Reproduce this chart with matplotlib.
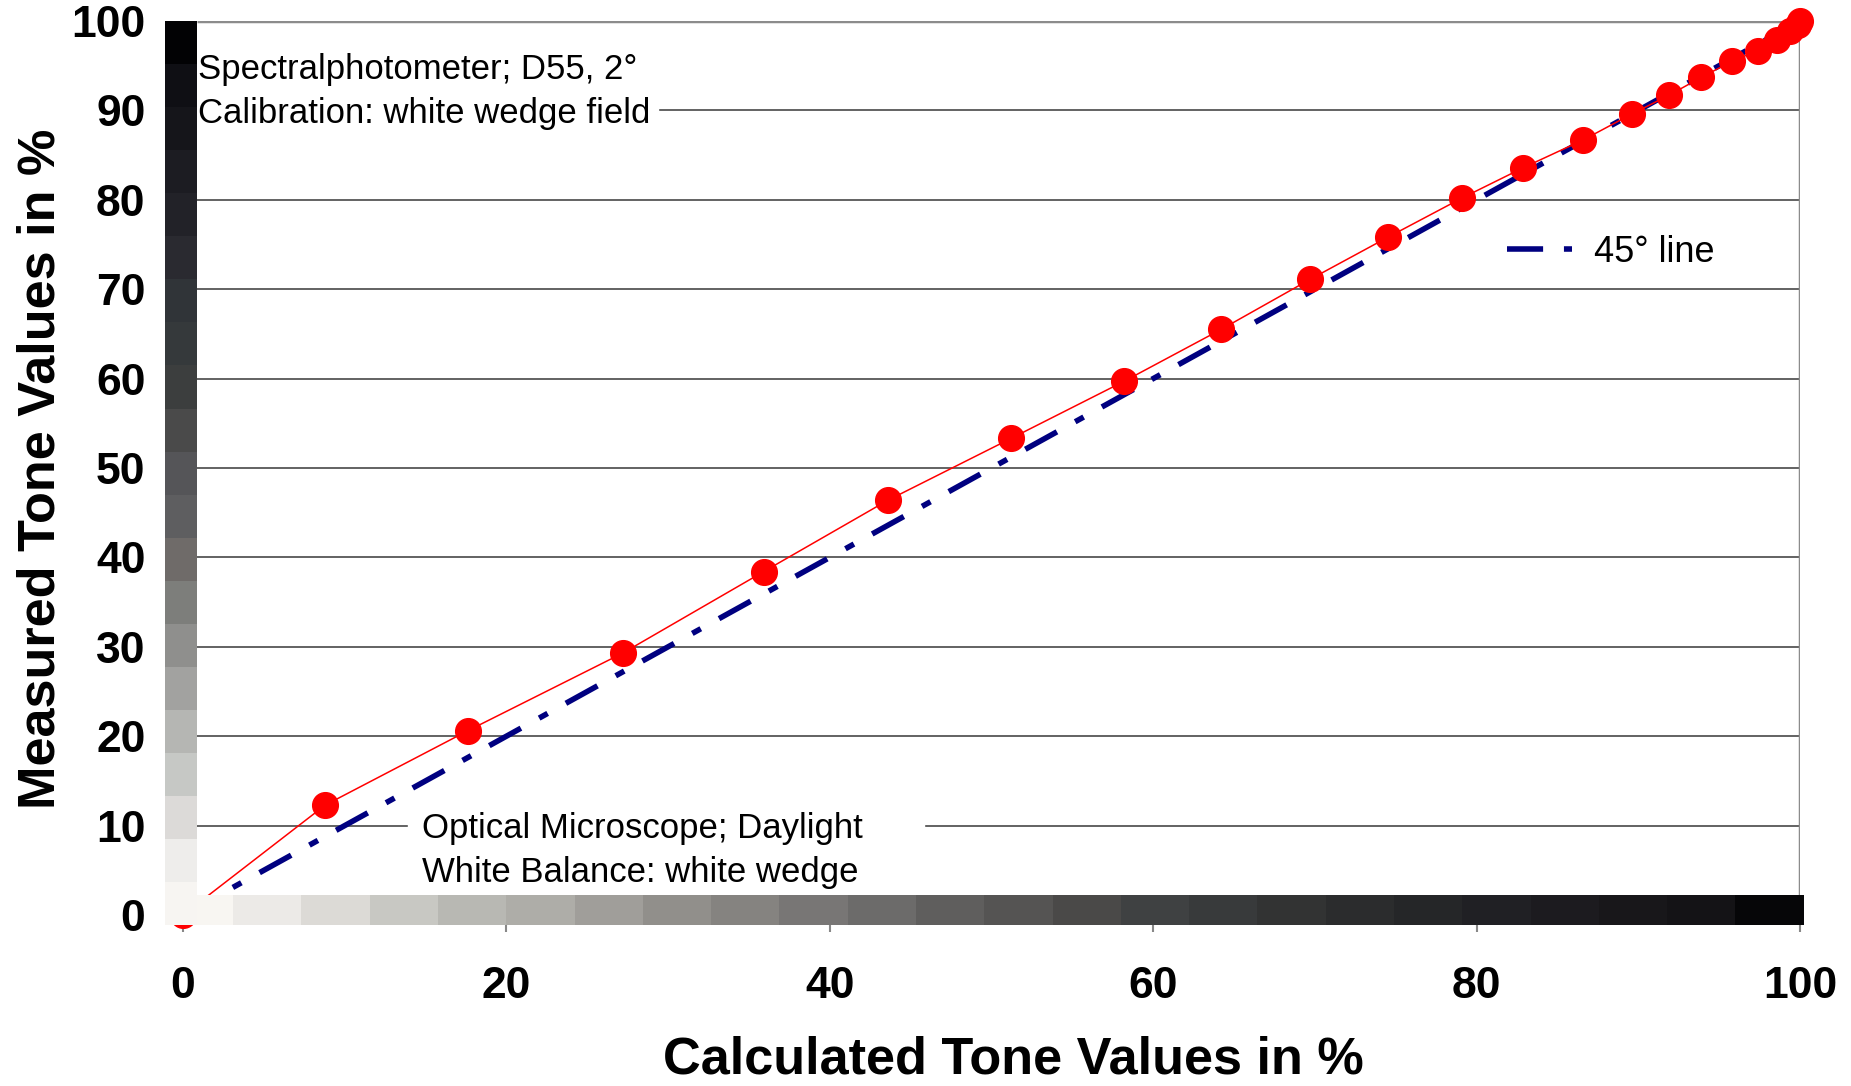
import matplotlib
matplotlib.use("Agg")
import matplotlib.pyplot as plt
import numpy as np
from matplotlib.colors import to_rgb
from matplotlib.patches import Rectangle

plt.rcParams['font.family'] = ['Liberation Sans', 'DejaVu Sans']
plt.rcParams['lines.scale_dashes'] = False

# measured vs calculated tone values (%)
calc = [0, 8.8, 17.6, 27.2, 35.9, 43.6, 51.2, 58.2, 64.2, 69.7, 74.5, 79.1,
        82.9, 86.6, 89.6, 91.9, 93.9, 95.8, 97.4, 98.6, 99.4, 99.9, 100]
meas = [0, 12.3, 20.6, 29.3, 38.4, 46.4, 53.3, 59.7, 65.5, 71.1, 75.8, 80.2,
        83.6, 86.7, 89.6, 91.7, 93.7, 95.5, 96.7, 97.9, 98.9, 99.6, 100]
diag = [0, 100]

xticks = [0, 20, 40, 60, 80, 100]
yticks = [0, 10, 20, 30, 40, 50, 60, 70, 80, 90, 100]

# gray wedge steps (scanned), light -> dark
wedge_x = ['#f8f6f2', '#eceae7', '#dcdad6', '#c8c8c3', '#b8b8b3', '#aeada8',
           '#a09e9a', '#918f8b', '#858380', '#787675', '#6c6b6a', '#5f5e5d',
           '#555453', '#4a4948', '#3f4142', '#383a3b', '#323333', '#2b2c2d',
           '#252628', '#202024', '#1c1b1f', '#18171a', '#141316', '#060608']
wedge_y = ['#f7f5f2', '#eeedeb', '#dcdad8', '#c6c8c5', '#b5b6b3', '#a2a2a0',
           '#8f8f8d', '#7d7e7b', '#6f6b69', '#5e5e60', '#555558', '#4a4a4a',
           '#3c3e3e', '#35393b', '#303438', '#2a2a30', '#222228', '#1c1c22',
           '#15151a', '#0f0f14', '#020204']

fig = plt.figure(figsize=(18.51, 10.86), dpi=100)
ax = fig.add_axes([183/1851, 1 - 915/1086, 1617/1851, 894/1086])

# wedges overlaid on the axes
img_x = np.array([[to_rgb(c) for c in wedge_x]])
ax.imshow(img_x, extent=[-1.1, 100.25, -1.1, 2.2], aspect='auto',
          interpolation='nearest', zorder=6, clip_on=False)
img_y = np.array([[to_rgb(c)] for c in wedge_y])
ax.imshow(img_y, extent=[-1.1, 0.87, -1.1, 100], aspect='auto',
          origin='lower', interpolation='nearest', zorder=7, clip_on=False)

# grid + frame
ax.hlines(yticks[1:-1], 0.87, 100, color='#484848', lw=1.2, zorder=1)
ax.hlines(100, 0.87, 100, color='#8c8c8c', lw=2.5, zorder=1)
ax.vlines(100, 2.2, 100, color='#8c8c8c', lw=2.5, zorder=1)

# white boxes behind annotations
ax.add_patch(Rectangle((0.87, 87.8), 28.5, 10.2, color='white', zorder=1.5))
ax.add_patch(Rectangle((13.9, 2.5), 31.9, 9.5, color='white', zorder=1.5))

line45, = ax.plot(diag, diag, color='#000080', lw=4,
                  dashes=[26, 15, 7, 15], zorder=2)
ax.plot(calc, meas, color='red', lw=1.1, zorder=3)
ax.plot(calc, meas, 'o', color='red', ms=18.5, mec='red', zorder=4, clip_on=False)

ax.text(0.9, 94.55, 'Spectralphotometer; D55, 2°', fontsize=25, va='center', zorder=5)
ax.text(0.9, 89.7, 'Calibration: white wedge field', fontsize=25, va='center', zorder=5)
ax.text(14.8, 9.65, 'Optical Microscope; Daylight', fontsize=25, va='center', zorder=5)
ax.text(14.8, 4.75, 'White Balance: white wedge', fontsize=25, va='center', zorder=5)

ax.legend([line45], ['45° line'], loc='center left', bbox_to_anchor=(0.819, 0.741),
          frameon=False, fontsize=26, borderpad=0, borderaxespad=0,
          handlelength=1.8, handletextpad=0.6)

ax.set_xlim(0, 100)
ax.set_ylim(0, 100)
for s in ax.spines.values():
    s.set_visible(False)
ax.set_xticks(xticks)
ax.set_yticks(yticks)
ax.tick_params(axis='x', length=12, width=1.5, color='#888888', pad=25,
               labelsize=32)
ax.tick_params(axis='y', length=0, pad=27, labelsize=32)
for lab in ax.get_xticklabels() + ax.get_yticklabels():
    lab.set_fontweight('bold')

fig.text(1013/1851, 1 - 1060/1086, 'Calculated Tone Values in %', fontsize=37.6,
         fontweight='bold', ha='center', va='center')
fig.text(41/1851, 1 - 469/1086, 'Measured Tone Values in %', fontsize=37.6,
         fontweight='bold', ha='center', va='center', rotation=90)

fig.savefig('out.png', dpi=100)
